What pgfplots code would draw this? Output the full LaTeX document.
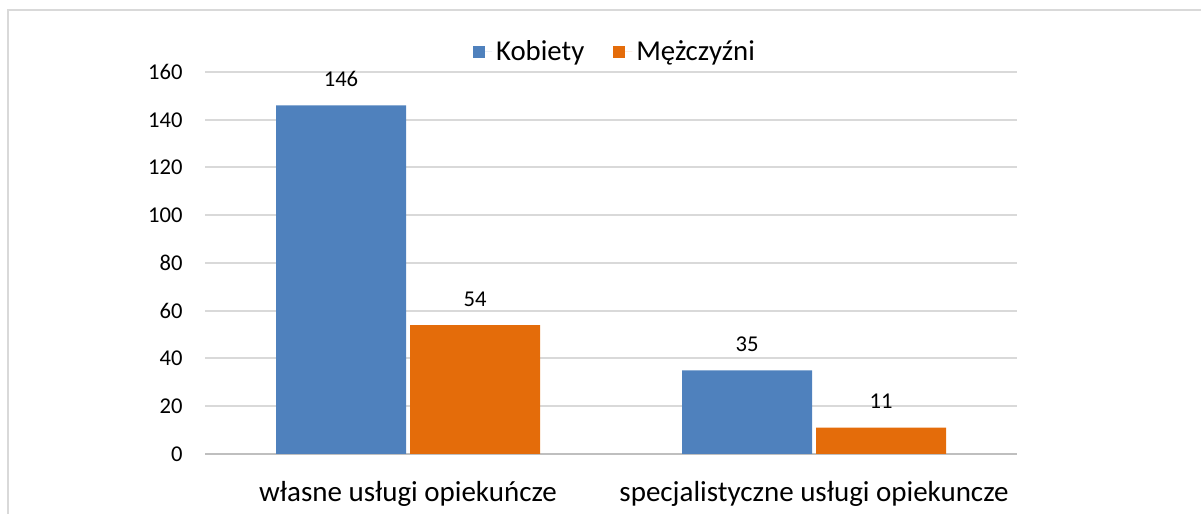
\documentclass[border=0pt]{standalone}
\usepackage{pgfplots}
\pgfplotsset{compat=1.18}
\usepackage{fontspec}
\setmainfont{Carlito}
\definecolor{cblue}{HTML}{4F81BD}
\definecolor{corange}{HTML}{E46C0A}
\definecolor{gridc}{HTML}{D9D9D9}
\definecolor{axc}{HTML}{BFBFBF}
\pgfplotsset{sqlegend/.style={legend image code/.code={\fill[##1] (0pt,-3pt) rectangle (6pt,3pt); \path (0pt,0pt) -- (9.5pt,0pt);}}}
\begin{document}
\begin{tikzpicture}
\draw[gridc, line width=1pt] (4pt,0pt) -- (4pt,252pt) -- (600.5pt,252pt);
\begin{axis}[
 at={(102.5pt,30pt)}, anchor=south west,
 scale only axis, width=406pt, height=191pt,
 xmin=-0.5, xmax=1.5, ymin=0, ymax=160,
 ybar=2pt, bar width=65pt,
 axis lines*=left,
 y axis line style={draw=none},
 x axis line style={axc, line width=1.2pt, -},
 ytick={0,20,...,160}, ytick style={draw=none},
 ymajorgrids, grid style={gridc, line width=1pt},
 xtick={0,1}, xticklabels={własne usługi opiekuńcze, specjalistyczne usługi opiekuncze},
 xtick style={draw=none},
 extra x ticks={-0.5,0.5,1.5}, extra x tick labels={},
 extra x tick style={tick align=outside, major tick length=4.5pt, tick style={axc, line width=1pt}, grid=none},
 yticklabel style={font=\fontsize{11.3}{13}\selectfont, inner sep=0pt, anchor=east, xshift=-11pt},
 xticklabel style={font=\fontsize{14.5}{17}\selectfont, inner sep=0pt, anchor=base, yshift=-19.5pt},
 /pgf/number format/assume math mode=true,
 nodes near coords,
 nodes near coords style={font=\fontsize{11.3}{13}\selectfont, inner sep=0pt, anchor=base, yshift=9.5pt, text=black},
 legend columns=2,
 legend style={at={(0.5,1)}, anchor=center, xshift=2.5pt, yshift=10pt, draw=none, fill=none, font=\fontsize{14.4}{17}\selectfont, /tikz/every even column/.append style={column sep=12.5pt}},
 sqlegend,
]
\addplot[fill=cblue, draw=none, sqlegend] coordinates {(0,146) (1,35)};
\addplot[fill=corange, draw=none, sqlegend] coordinates {(0,54) (1,11)};
\legend{Kobiety, Mężczyźni}
\end{axis}
\pgfresetboundingbox
\useasboundingbox (0pt,0pt) rectangle (600.5pt,257pt);
\end{tikzpicture}
\end{document}
